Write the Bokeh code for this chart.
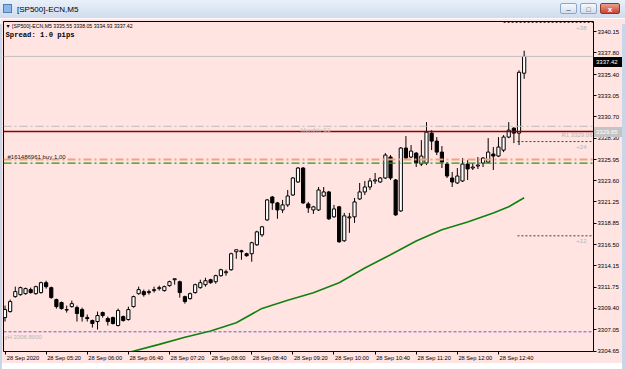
from bokeh.plotting import figure
from bokeh.models import (ColumnDataSource, Span, Label, FixedTicker, LinearAxis,
                          PrintfTickFormatter, Range1d, Div)
from bokeh.layouts import column
from bokeh.embed import file_html
from bokeh.resources import INLINE

# ---------------- data ----------------
symbol = "[SP500]-ECN,M5"
spread_text = "Spread: 1.0 pips"

time_tick_bars = [0, 8, 16, 24, 32, 40, 48, 56, 64, 72, 80, 88, 96]
time_tick_labels = ["28 Sep 2020", "28 Sep 05:20", "28 Sep 06:00", "28 Sep 06:40",
                    "28 Sep 07:20", "28 Sep 08:00", "28 Sep 08:40", "28 Sep 09:20",
                    "28 Sep 10:00", "28 Sep 10:40", "28 Sep 11:20", "28 Sep 12:00",
                    "28 Sep 12:40"]

price_ticks = [3304.65, 3307.05, 3309.40, 3311.75, 3314.15, 3316.50, 3318.85,
               3321.25, 3323.60, 3325.95, 3328.30, 3330.70, 3333.05, 3335.40,
               3337.80, 3340.15]

opens = [3308.38, 3309.05, 3310.71, 3310.93, 3311.04, 3311.49, 3311.04, 3311.16, 3312.26, 3311.71,
         3310.38, 3310.05, 3309.27, 3309.60, 3309.49, 3309.27, 3308.38, 3308.05, 3307.94, 3308.94,
         3308.27, 3308.38, 3307.50, 3308.49, 3308.16, 3309.60, 3311.04, 3311.27, 3311.16, 3311.38,
         3311.60, 3311.38, 3311.93, 3312.59, 3312.37, 3310.71, 3310.49, 3311.16, 3311.71, 3312.04,
         3312.59, 3312.37, 3313.04, 3313.37, 3313.70, 3315.70, 3315.81, 3315.48, 3315.48, 3316.47,
         3317.58, 3319.24, 3321.79, 3321.13, 3320.35, 3320.91, 3322.01, 3323.46, 3325.01, 3321.02,
         3320.35, 3320.35, 3321.90, 3322.35, 3319.58, 3320.69, 3316.92, 3319.47, 3319.58, 3321.57,
         3322.35, 3322.90, 3323.57, 3323.46, 3323.90, 3326.23, 3323.68, 3320.24, 3327.23, 3326.23,
         3326.67, 3325.45, 3325.56, 3328.89, 3328.00, 3326.78, 3325.45, 3323.90, 3323.35, 3323.57,
         3325.45, 3325.01, 3325.23, 3325.56, 3325.67, 3326.56, 3326.34, 3327.00, 3328.45, 3329.44,
         3328.89, 3335.55]
highs = [3309.71, 3310.38, 3311.82, 3311.82, 3311.71, 3311.71, 3311.93, 3312.37, 3312.48, 3311.82,
         3310.49, 3310.16, 3309.71, 3310.27, 3309.71, 3309.49, 3308.72, 3308.16, 3309.05, 3309.05,
         3308.49, 3308.49, 3309.38, 3308.61, 3309.60, 3310.82, 3311.82, 3311.49, 3311.49, 3311.82,
         3311.93, 3311.93, 3312.48, 3312.70, 3312.48, 3310.82, 3311.16, 3312.15, 3312.59, 3312.81,
         3312.70, 3313.15, 3313.81, 3313.70, 3315.59, 3315.92, 3315.92, 3315.59, 3316.81, 3318.03,
         3318.58, 3321.57, 3321.90, 3321.24, 3321.46, 3322.57, 3324.01, 3325.12, 3325.12, 3321.24,
         3320.80, 3322.90, 3322.90, 3322.46, 3320.91, 3320.80, 3320.02, 3320.02, 3321.68, 3323.35,
         3323.57, 3323.90, 3324.46, 3324.01, 3326.67, 3326.45, 3323.79, 3327.34, 3328.56, 3327.56,
         3326.78, 3328.11, 3330.11, 3329.22, 3328.45, 3327.45, 3325.67, 3324.57, 3325.01, 3326.12,
         3325.90, 3325.56, 3326.23, 3326.23, 3328.33, 3327.34, 3328.45, 3328.67, 3330.11, 3329.55,
         3335.87, 3338.05]
lows = [3307.94, 3308.94, 3310.60, 3310.82, 3310.93, 3311.04, 3310.93, 3311.04, 3311.60, 3310.49,
        3309.38, 3309.27, 3308.94, 3309.49, 3307.94, 3307.94, 3307.94, 3307.27, 3307.05, 3308.38,
        3307.50, 3307.61, 3307.39, 3307.94, 3308.05, 3309.49, 3310.93, 3310.71, 3310.93, 3311.16,
        3311.38, 3311.27, 3311.82, 3312.04, 3310.60, 3309.93, 3310.38, 3311.04, 3311.60, 3311.82,
        3312.15, 3312.15, 3312.93, 3313.04, 3313.59, 3314.92, 3314.81, 3315.15, 3314.59, 3316.36,
        3317.36, 3319.13, 3320.35, 3319.36, 3320.02, 3320.69, 3321.90, 3323.35, 3321.02, 3320.02,
        3319.91, 3320.24, 3321.79, 3319.24, 3319.47, 3316.70, 3316.81, 3317.80, 3318.91, 3321.46,
        3322.01, 3322.57, 3323.24, 3323.35, 3323.79, 3323.68, 3319.69, 3320.13, 3325.90, 3326.12,
        3325.12, 3325.23, 3325.34, 3327.00, 3326.45, 3325.01, 3323.90, 3322.90, 3323.24, 3323.46,
        3323.68, 3324.79, 3324.90, 3325.12, 3325.56, 3324.79, 3326.23, 3326.78, 3328.33, 3327.78,
        3327.56, 3334.93]
closes = [3309.27, 3310.16, 3311.27, 3311.71, 3311.60, 3311.16, 3311.82, 3312.26, 3311.82, 3310.60,
          3309.60, 3309.38, 3309.22, 3309.93, 3308.83, 3308.49, 3308.27, 3307.72, 3308.61, 3308.61,
          3307.94, 3307.72, 3309.16, 3308.05, 3309.27, 3310.71, 3311.49, 3310.93, 3311.27, 3311.49,
          3311.71, 3311.82, 3312.37, 3312.70, 3311.16, 3310.16, 3311.04, 3312.04, 3312.26, 3312.48,
          3312.26, 3313.04, 3313.70, 3313.48, 3315.48, 3315.92, 3315.70, 3315.26, 3316.70, 3317.91,
          3318.47, 3321.46, 3321.13, 3320.35, 3320.91, 3321.90, 3323.90, 3325.01, 3321.13, 3320.58,
          3320.69, 3322.57, 3322.35, 3319.36, 3320.46, 3316.81, 3319.69, 3319.58, 3321.24, 3322.35,
          3322.90, 3323.57, 3323.68, 3323.90, 3326.45, 3323.90, 3319.80, 3327.23, 3326.12, 3326.89,
          3325.56, 3326.34, 3329.00, 3328.00, 3326.78, 3325.67, 3324.12, 3323.46, 3324.12, 3325.45,
          3324.90, 3325.12, 3325.34, 3326.12, 3326.78, 3326.34, 3327.34, 3328.45, 3329.22, 3328.89,
          3335.65, 3337.42]

ma_bars = [24, 30, 35, 40, 45, 50, 55, 60, 65, 70, 75, 80, 85, 90, 95, 98, 101]
ma_values = [3304.5, 3305.4, 3306.2, 3306.9, 3307.8, 3309.4, 3310.3, 3311.15, 3312.26,
             3313.9, 3315.37, 3316.9, 3318.15, 3319.0, 3320.0, 3320.7, 3321.7]

bid_price = 3337.42
monthly_s1 = 3329.65
r1_price = 3329.06
order_price = 3325.95
order_label = "#161486961 buy 1.00"
green_level = 3325.55
yh_price = 3306.80
offset_levels = [3341.19, 3327.95, 3317.47]
offset_start_bars = [97.0, 99.7, 99.7]
offset_labels = ["+38", "+24", "+12"]

# ---------------- styling ----------------
PINK = "#FFE4E1"
FONT = "Liberation Sans"
WIN = "#c6d7ec"

bars = list(range(len(opens)))
body_top = [max(o, c) for o, c in zip(opens, closes)]
body_bot = [min(o, c) for o, c in zip(opens, closes)]
fills = ["white" if c >= o else "black" for o, c in zip(opens, closes)]
src = ColumnDataSource(dict(x=bars, o=opens, h=highs, l=lows, c=closes,
                            top=body_top, bot=body_bot, fill=fills))

FRAME_L, FRAME_R, FRAME_T, FRAME_B = 3, 593, 21, 352  # page px of frame
FIG_TOP = 18
FIG_H = 345
X0, X1 = -0.292, 114.49
Y0, Y1 = 3304.61, 3341.30
PX_PER_PRICE = (FRAME_B - FRAME_T) / (Y1 - Y0)

p = figure(width=625, height=FIG_H,
           x_range=Range1d(X0, X1), y_range=Range1d(Y0, Y1),
           y_axis_location="right", toolbar_location=None, output_backend="svg",
           min_border_left=FRAME_L, min_border_right=625 - FRAME_R,
           min_border_top=FRAME_T - FIG_TOP, min_border_bottom=FIG_TOP + FIG_H - FRAME_B,
           background_fill_color=PINK, border_fill_color=PINK,
           outline_line_color="black", outline_line_width=1)
p.grid.visible = False

# second bottom axis carrying the time labels, offset to the right of the tick marks
label_shift = 3.5
label_axis = LinearAxis(ticker=FixedTicker(ticks=[b + label_shift for b in time_tick_bars]),
                        major_label_overrides={b + label_shift: t for b, t in
                                               zip(time_tick_bars, time_tick_labels)})
p.add_layout(label_axis, "below")

for ax in (p.xaxis[0], p.yaxis[0], label_axis):
    ax.axis_line_color = None
    ax.major_tick_line_color = "black"
    ax.major_tick_out = 3
    ax.major_tick_in = 0
    ax.minor_tick_line_color = None
    ax.major_label_text_font = FONT
    ax.major_label_text_font_size = "6px"
    ax.major_label_text_color = "black"
    ax.major_label_standoff = 1

p.xaxis[0].ticker = FixedTicker(ticks=time_tick_bars)
p.xaxis[0].major_label_overrides = {b: "" for b in time_tick_bars}
p.xaxis[0].major_label_standoff = 0
p.xaxis[0].major_label_text_font_size = "0px"
label_axis.major_tick_line_color = None
label_axis.major_tick_out = 0
label_axis.major_label_standoff = 0
label_axis.major_label_text_font_size = "5.7px"
p.yaxis.ticker = FixedTicker(ticks=price_ticks)
p.yaxis.formatter = PrintfTickFormatter(format="%.2f")


def sx(px):
    return px - FRAME_L


def sy(py):
    return FRAME_B - py


# horizontal levels
p.add_layout(Span(location=bid_price, dimension="width", line_color="#c0c0c0", line_width=1))
p.add_layout(Span(location=monthly_s1, dimension="width", line_color="#bdbdbd",
                  line_width=1, line_dash="8 3 2 3"))
p.add_layout(Span(location=r1_price, dimension="width", line_color="#8b0000", line_width=1.5))
p.add_layout(Span(location=order_price, dimension="width", line_color="#f7a07f",
                  line_width=2, line_dash="8 3 2 3"))
p.add_layout(Span(location=green_level, dimension="width", line_color="#1f9a1f",
                  line_width=1.3, line_dash="8 3 2 3"))
p.add_layout(Span(location=yh_price, dimension="width", line_color="#6a5acd",
                  line_width=1, line_dash="3 2"))

p.segment(x0=offset_start_bars, y0=offset_levels,
          x1=[X1] * len(offset_levels), y1=offset_levels,
          line_color="#404040", line_width=1, line_dash="2 2")

# moving average
p.line(ma_bars, ma_values, line_color="#0f820f", line_width=1.6)

# candles
p.segment(x0="x", y0="l", x1="x", y1="h", source=src, line_color="black", line_width=1)
p.vbar(x="x", top="top", bottom="bot", width=0.62, source=src,
       fill_color="fill", line_color="black", line_width=1)

# texts
lab = dict(x_units="screen", y_units="screen", text_font=FONT)
p.add_layout(Label(x=sx(5), y=sy(26), text="▼ %s  %.2f %.2f %.2f %.2f" % (
    symbol, opens[-1], highs[-1], lows[-1], closes[-1]),
    text_font_size="5.2px", text_color="black", text_baseline="middle", **lab))
p.add_layout(Label(x=sx(5), y=sy(35), text=spread_text, x_units="screen", y_units="screen",
                   text_font="Liberation Mono", text_font_style="bold",
                   text_font_size="7.2px", text_color="black", text_baseline="middle"))
p.add_layout(Label(x=sx(300), y=sy(130), text="Monthly S1", text_font_size="6px",
                   text_color="#c4c4c4", text_baseline="middle", **lab))
p.add_layout(Label(x=sx(592), y=sy(135), text="R1 %.2f" % r1_price, text_font_size="6px",
                   text_color="#b4b4b4", text_baseline="middle", text_align="right", **lab))
for lvl_y, t in zip([28, 147, 241], offset_labels):
    p.add_layout(Label(x=sx(586), y=sy(lvl_y), text=t, text_font_size="6px",
                       text_color="#b4b4b4", text_baseline="middle", text_align="right", **lab))
p.add_layout(Label(x=sx(7), y=sy(157), text=order_label, text_font_size="6px",
                   text_color="#202020", text_baseline="middle", **lab))
p.add_layout(Label(x=sx(4), y=sy(337), text="yH %.4f" % yh_price, text_font_size="6px",
                   text_color="#b4b4b4", text_baseline="middle", **lab))

# window chrome (title bar, frame edges) and the two price boxes on the axis
BOTTOM_TOP = FIG_TOP + FIG_H


def price_to_page(v):
    return FRAME_T + (Y1 - v) * PX_PER_PRICE


def axis_box(v, bg):
    top = price_to_page(v) - 5 - BOTTOM_TOP
    return ('<div style="position:absolute;left:594px;top:%dpx;width:28px;height:10px;'
            'background:%s;color:#fff;font-family:\'Liberation Sans\';font-size:6px;'
            'line-height:10px;text-align:left;padding-left:2px;box-sizing:border-box;'
            'z-index:10;">%.2f</div>' % (round(top), bg, v))


title_html = (
    '<div style="position:relative;width:625px;height:18px;margin:0;'
    'background:linear-gradient(to bottom,#e9f0f9,#cfdcee);'
    'font-family:\'Liberation Sans\',sans-serif;font-size:8px;color:#000;">'
    '<div style="position:absolute;left:3px;top:4px;width:9px;height:9px;'
    'background:#8cb8e6;border:1px solid #4c7fb6;"></div>'
    '<span style="position:absolute;left:17px;top:4px;">%s</span>'
    '<div style="position:absolute;left:560px;top:3px;width:17px;height:11px;'
    'border:1px solid #8ca6c8;border-radius:2px;background:linear-gradient(#f6f9fd,#d2dfee);'
    'font-size:8px;text-align:center;line-height:11px;color:#234;">&#8211;</div>'
    '<div style="position:absolute;left:580px;top:3px;width:17px;height:11px;'
    'border:1px solid #8ca6c8;border-radius:2px;background:linear-gradient(#f6f9fd,#d2dfee);'
    'font-size:7px;text-align:center;line-height:11px;color:#234;">&#9633;</div>'
    '<div style="position:absolute;left:600px;top:3px;width:20px;height:11px;'
    'border:1px solid #8b3a2a;border-radius:2px;background:linear-gradient(#eaa08e,#c9452f);'
    'font-size:8px;font-weight:bold;text-align:center;line-height:11px;color:#fff;">x</div>'
    '</div>' % symbol)
top_bar = Div(text=title_html, width=625, height=18, margin=0)

bottom_html = (
    '<div style="position:relative;width:625px;height:6px;background:%s;">' % WIN
    + '<div style="position:absolute;left:0px;top:%dpx;width:2px;height:%dpx;background:%s;'
      'z-index:10;"></div>' % (FIG_TOP - BOTTOM_TOP, FIG_H, WIN)
    + '<div style="position:absolute;left:622px;top:%dpx;width:3px;height:%dpx;background:%s;'
      'z-index:10;"></div>' % (FIG_TOP - BOTTOM_TOP, FIG_H, WIN)
    + axis_box(bid_price, "#000000")
    + axis_box(monthly_s1, "#c4c4c4")
    + '</div>')
bottom_bar = Div(text=bottom_html, width=625, height=6, margin=0,
                 styles={"overflow": "visible", "z-index": "10"})

layout = column(top_bar, p, bottom_bar, spacing=0, margin=0)
open("out.html", "w").write(file_html(layout, INLINE))
